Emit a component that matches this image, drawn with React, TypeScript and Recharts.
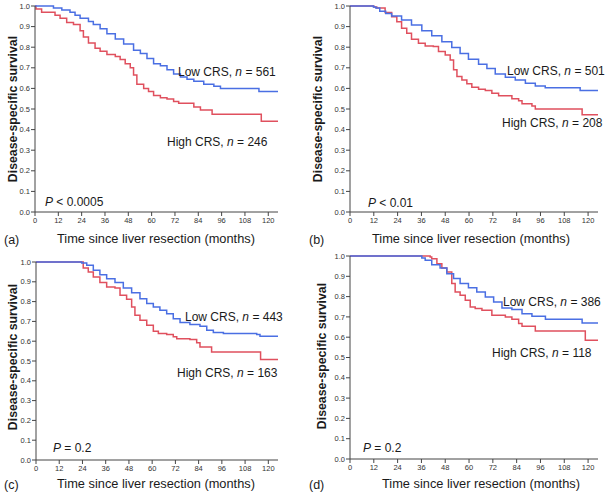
import React from "react";
import { LineChart, Line, XAxis, YAxis } from "recharts";

// tick labels
const monthTicks = [0, 12, 24, 36, 48, 60, 72, 84, 96, 108, 120];
const survTicks = [0, 0.1, 0.2, 0.3, 0.4, 0.5, 0.6, 0.7, 0.8, 0.9, 1.0];

// (a) all patients
const aLowT = [0, 9.5, 13.8, 18, 20.6, 23.2, 27.5, 30, 33.5, 37, 41.3, 45.6, 50.7, 54.2, 57.6, 61, 64.5, 67.9, 71.3, 74.8, 78.2, 81.7, 86.8, 92, 95.4, 115.2, 125];
const aLowS = [1, 0.99, 0.98, 0.97, 0.955, 0.94, 0.925, 0.91, 0.89, 0.865, 0.84, 0.815, 0.785, 0.77, 0.745, 0.72, 0.71, 0.69, 0.67, 0.655, 0.645, 0.635, 0.62, 0.61, 0.6, 0.585, 0.585];
const aHighT = [0, 0.5, 3.4, 10.3, 12.9, 16.3, 19.8, 23.2, 24.9, 27.5, 30.9, 33.5, 37, 41.3, 43.8, 46.4, 49, 50.7, 52.4, 55.9, 58.4, 61, 64.5, 67.9, 71.3, 73.9, 81.7, 85.1, 91.1, 116.4, 125];
const aHighS = [1, 0.985, 0.97, 0.955, 0.94, 0.92, 0.91, 0.88, 0.85, 0.82, 0.795, 0.78, 0.765, 0.755, 0.74, 0.72, 0.7, 0.665, 0.62, 0.6, 0.585, 0.565, 0.555, 0.548, 0.536, 0.528, 0.51, 0.495, 0.475, 0.44, 0.44];

// (b) alive at 12 months
const bLowT = [0, 11.8, 13, 15, 18, 21, 26, 31, 36.2, 41.2, 46.3, 51.3, 55.5, 59.7, 64.8, 69, 73.2, 78.3, 83.3, 88.4, 93.4, 98.4, 116, 125];
const bLowS = [1, 0.995, 0.99, 0.975, 0.964, 0.951, 0.932, 0.908, 0.88, 0.855, 0.827, 0.798, 0.77, 0.742, 0.717, 0.697, 0.67, 0.654, 0.641, 0.625, 0.612, 0.603, 0.59, 0.59];
const bHighT = [0, 12, 13.5, 17.7, 21, 23.6, 26, 28.6, 31, 34.5, 37.9, 42, 44.6, 48, 50.5, 52.2, 53.9, 56.4, 58.9, 61.4, 64.8, 68.2, 71.5, 74.9, 81.6, 85, 86.7, 91.7, 93.4, 117, 125];
const bHighS = [1, 0.995, 0.99, 0.968, 0.948, 0.924, 0.892, 0.868, 0.838, 0.819, 0.806, 0.803, 0.779, 0.762, 0.738, 0.69, 0.658, 0.641, 0.622, 0.606, 0.596, 0.59, 0.577, 0.564, 0.55, 0.54, 0.525, 0.515, 0.5, 0.472, 0.472];

// (c) alive at 24 months
const cLowT = [0, 23.6, 26.2, 29.6, 33, 36.5, 40.8, 45.1, 49.4, 53.7, 57.2, 60.6, 64, 67.5, 70.9, 74.4, 79.5, 84.7, 88.2, 91.6, 96.8, 114, 115.7, 125];
const cLowS = [1, 0.995, 0.983, 0.958, 0.936, 0.916, 0.896, 0.869, 0.845, 0.815, 0.79, 0.773, 0.756, 0.739, 0.714, 0.694, 0.684, 0.676, 0.655, 0.644, 0.639, 0.634, 0.625, 0.625];
const cHighT = [0, 24.4, 27, 29.6, 33, 36.5, 40.8, 43.4, 46.8, 49.4, 51.1, 53.7, 57.2, 60.6, 63.2, 67.5, 70.9, 72.7, 79.5, 83, 84.7, 90.7, 116, 125];
const cHighS = [1, 0.97, 0.95, 0.924, 0.896, 0.874, 0.869, 0.832, 0.812, 0.773, 0.731, 0.706, 0.681, 0.65, 0.639, 0.634, 0.622, 0.613, 0.608, 0.592, 0.571, 0.546, 0.508, 0.508];

// (d) alive at 36 months
const dLowT = [0, 36.2, 37.9, 41.2, 45.4, 48.8, 52.2, 55.5, 59.7, 63.9, 68.2, 72.4, 76.6, 81.6, 86.7, 91.7, 98.5, 117, 125];
const dLowS = [1, 0.99, 0.979, 0.957, 0.941, 0.913, 0.889, 0.864, 0.843, 0.823, 0.798, 0.774, 0.744, 0.736, 0.716, 0.703, 0.689, 0.67, 0.67];
const dHighT = [0, 40.4, 41.2, 43.8, 46.3, 48.8, 51.3, 53, 55.5, 58.1, 60.6, 63.1, 66.5, 71.5, 78.3, 81.6, 85, 86.7, 93.4, 118.6, 125];
const dHighS = [1, 0.995, 0.987, 0.962, 0.941, 0.921, 0.864, 0.823, 0.807, 0.782, 0.749, 0.741, 0.733, 0.708, 0.7, 0.689, 0.667, 0.654, 0.63, 0.585, 0.585];

const zip = (t: number[], s: number[]) => t.map((m, i) => ({ t: m, s: s[i] }));

const FONT = "'Liberation Sans', Arial, Helvetica, sans-serif";
const BLUE = "#4a6fe3";
const RED = "#e0505e";
const AXIS = "#444";

type Box = { x: number; y: number; w: number; h: number };
type Plot = { l: number; t: number; r: number; b: number };

const Txt = ({ x, cy, size = 12, children, style }: any) => (
  <div
    style={{
      position: "absolute",
      left: x,
      top: cy - 8,
      lineHeight: "16px",
      fontSize: size,
      fontFamily: FONT,
      color: "#1a1a1a",
      whiteSpace: "nowrap",
      ...style,
    }}
  >
    {children}
  </div>
);

const Panel = ({ box, plot, low, high }: { box: Box; plot: Plot; low: any[]; high: any[] }) => {
  const xAxisH = 20;
  const margin = {
    top: plot.t - box.y,
    left: 0,
    right: box.x + box.w - plot.r,
    bottom: box.y + box.h - plot.b - xAxisH,
  };
  const tick = { fontSize: 7.5, fill: "#333", fontFamily: FONT };
  return (
    <div style={{ position: "absolute", left: box.x, top: box.y }}>
      <LineChart width={box.w} height={box.h} margin={margin}>
        <XAxis
          type="number"
          dataKey="t"
          domain={[0, 125]}
          ticks={monthTicks}
          interval={0}
          height={xAxisH}
          tick={tick}
          tickSize={4}
          tickMargin={2}
          stroke={AXIS}
          allowDuplicatedCategory={false}
        />
        <YAxis
          type="number"
          domain={[0, 1]}
          ticks={survTicks}
          interval={0}
          width={plot.l - box.x}
          tick={tick}
          tickSize={4}
          tickMargin={1}
          stroke={AXIS}
          tickFormatter={(v: number) => v.toFixed(1)}
        />
        <Line data={high} dataKey="s" type="stepAfter" stroke={RED} strokeWidth={1.5} dot={false} isAnimationActive={false} />
        <Line data={low} dataKey="s" type="stepAfter" stroke={BLUE} strokeWidth={1.5} dot={false} isAnimationActive={false} />
      </LineChart>
    </div>
  );
};

const YTitle = ({ cx, cy }: { cx: number; cy: number }) => (
  <div
    style={{
      position: "absolute",
      left: cx - 100,
      top: cy - 8,
      width: 200,
      lineHeight: "16px",
      textAlign: "center",
      fontSize: 12.3,
      fontWeight: "bold",
      fontFamily: FONT,
      color: "#1a1a1a",
      transform: "rotate(-90deg)",
      whiteSpace: "nowrap",
    }}
  >
    Disease-specific survival
  </div>
);

const XTITLE = "Time since liver resection (months)";

export default function App() {
  return (
    <div style={{ position: "absolute", left: 0, top: 0, width: 609, height: 493, background: "#fff", overflow: "hidden" }}>
      <Panel box={{ x: 0, y: 0, w: 305, h: 250 }} plot={{ l: 35, t: 6, r: 278, b: 212 }} low={zip(aLowT, aLowS)} high={zip(aHighT, aHighS)} />
      <Panel box={{ x: 305, y: 0, w: 304, h: 250 }} plot={{ l: 350, t: 6, r: 598, b: 212 }} low={zip(bLowT, bLowS)} high={zip(bHighT, bHighS)} />
      <Panel box={{ x: 0, y: 245, w: 305, h: 248 }} plot={{ l: 36, t: 262, r: 278, b: 460 }} low={zip(cLowT, cLowS)} high={zip(cHighT, cHighS)} />
      <Panel box={{ x: 305, y: 245, w: 304, h: 248 }} plot={{ l: 350, t: 256, r: 598, b: 459 }} low={zip(dLowT, dLowS)} high={zip(dHighT, dHighS)} />

      {/* (a) */}
      <YTitle cx={13} cy={109} />
      <Txt x={178} cy={72}>Low CRS, <i>n</i> = 561</Txt>
      <Txt x={167} cy={142}>High CRS, <i>n</i> = 246</Txt>
      <Txt x={45} cy={202}><i>P</i> &lt; 0.0005</Txt>
      <Txt x={4} cy={240} size={12.5}>(a)</Txt>
      <Txt x={57} cy={239} size={12.8}>{XTITLE}</Txt>

      {/* (b) */}
      <YTitle cx={318} cy={109} />
      <Txt x={507} cy={71}>Low CRS, <i>n</i> = 501</Txt>
      <Txt x={502} cy={123}>High CRS, <i>n</i> = 208</Txt>
      <Txt x={368} cy={203}><i>P</i> &lt; 0.01</Txt>
      <Txt x={309} cy={240} size={12.5}>(b)</Txt>
      <Txt x={372} cy={239} size={12.8}>{XTITLE}</Txt>

      {/* (c) */}
      <YTitle cx={13} cy={357} />
      <Txt x={185} cy={317}>Low CRS, <i>n</i> = 443</Txt>
      <Txt x={177} cy={373}>High CRS, <i>n</i> = 163</Txt>
      <Txt x={53} cy={448}><i>P</i> = 0.2</Txt>
      <Txt x={4} cy={485} size={12.5}>(c)</Txt>
      <Txt x={57} cy={484} size={12.8}>{XTITLE}</Txt>

      {/* (d) */}
      <YTitle cx={322} cy={356} />
      <Txt x={503} cy={302}>Low CRS, <i>n</i> = 386</Txt>
      <Txt x={492} cy={353}>High CRS, <i>n</i> = 118</Txt>
      <Txt x={363} cy={448}><i>P</i> = 0.2</Txt>
      <Txt x={309} cy={485} size={12.5}>(d)</Txt>
      <Txt x={382} cy={484} size={12.8}>{XTITLE}</Txt>
    </div>
  );
}
